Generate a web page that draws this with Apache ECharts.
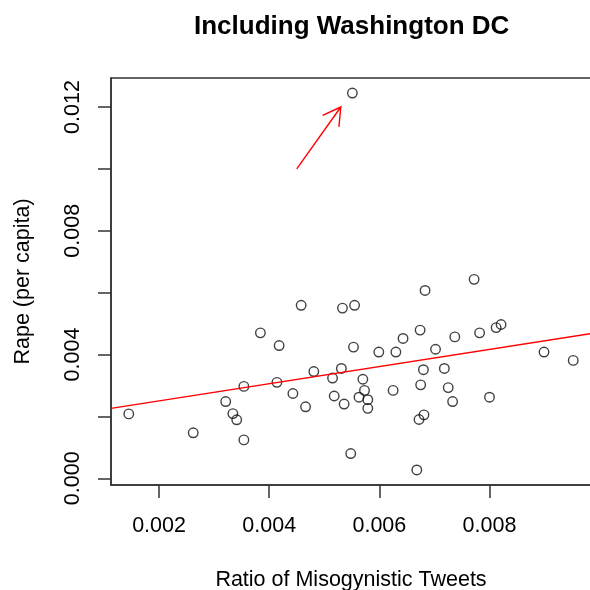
<!DOCTYPE html>
<html>
<head>
<meta charset="utf-8">
<script src="https://cdn.jsdelivr.net/npm/echarts@6/dist/echarts.min.js"></script>
<style>html,body{margin:0;padding:0;background:#fff;}#c{width:590px;height:590px;}</style>
</head>
<body>
<div id="c"></div>
<script>
// Ratio of misogynistic tweets (x) per state (incl. Washington DC)
const tweetRatio = [0.00145,0.00262,0.00321,0.00334,0.00341,0.00354,0.00354,0.00384,0.00418,0.00458,
  0.00414,0.00443,0.00466,0.00481,0.00515,0.00518,0.00533,0.00531,0.00536,0.00555,
  0.00553,0.00548,0.00570,0.00573,0.00563,0.00579,0.00579,0.00599,0.00625,0.00630,
  0.00643,0.00674,0.00683,0.00680,0.00675,0.00681,0.00672,0.00668,0.00702,0.00718,
  0.00725,0.00733,0.00737,0.00772,0.00782,0.00800,0.00812,0.00821,0.00899,0.00952,
  0.00551];
// Rape per capita (y)
const rapePerCapita = [0.00208,0.00147,0.00248,0.00209,0.00189,0.00124,0.00297,0.00470,0.00429,0.00559,
  0.00310,0.00274,0.00231,0.00345,0.00324,0.00266,0.00550,0.00355,0.00240,0.00559,
  0.00424,0.00080,0.00320,0.00284,0.00262,0.00254,0.00226,0.00408,0.00284,0.00408,
  0.00452,0.00479,0.00607,0.00351,0.00302,0.00205,0.00190,0.00027,0.00417,0.00355,
  0.00293,0.00248,0.00457,0.00643,0.00470,0.00262,0.00487,0.00497,0.00408,0.00381,
  0.01245];
// fitted regression line (abline)
const fitIntercept = 0.001947;
const fitSlope = 0.2775;
// annotation arrow: [x0, y0, x1, y1]
const arrowSpec = [0.0045, 0.0100, 0.0053, 0.0120];
// tick positions
const xTicks = [0.002, 0.004, 0.006, 0.008];
const yTicks = [0.000, 0.002, 0.004, 0.006, 0.008, 0.010, 0.012];
const yTickLabels = [0.000, 0.004, 0.008, 0.012];

function ext(arr){
  const mn = Math.min.apply(null, arr), mx = Math.max.apply(null, arr);
  const r = mx - mn;
  return [mn - 0.04 * r, mx + 0.04 * r];
}
const xr = ext(tweetRatio), yr = ext(rapePerCapita);
const points = tweetRatio.map((v, i) => [v, rapePerCapita[i]]);
const fitLine = [[xr[0], fitIntercept + fitSlope * xr[0]], [xr[1], fitIntercept + fitSlope * xr[1]]];

const FONT = 'Liberation Sans, Arial, sans-serif';
const chart = echarts.init(document.getElementById('c'), null, {renderer: 'canvas'});
chart.setOption({
  animation: false,
  backgroundColor: '#ffffff',
  title: {
    text: 'Including Washington DC',
    left: 189, top: 9,
    textStyle: {fontFamily: FONT, fontSize: 26, fontWeight: 'bold', color: '#000'}
  },
  grid: {left: 111, top: 78, width: 480, height: 407, containLabel: false, outerBoundsMode: 'none',
    show: true, borderColor: '#333', borderWidth: 1.5, backgroundColor: 'transparent'},
  xAxis: {
    type: 'value', min: xr[0], max: xr[1],
    name: 'Ratio of Misogynistic Tweets', nameLocation: 'middle', nameGap: 84,
    nameTextStyle: {fontFamily: FONT, fontSize: 21.5, color: '#000'},
    axisLine: {show: true, onZero: false, lineStyle: {color: '#333', width: 1.5}},
    axisTick: {show: true, length: 13, inside: false, customValues: xTicks, lineStyle: {color: '#333', width: 1.5}},
    axisLabel: {show: true, customValues: xTicks, margin: 30, fontFamily: FONT, fontSize: 21.5, color: '#000',
      formatter: v => v.toFixed(3)},
    splitLine: {show: false}
  },
  yAxis: {
    type: 'value', min: yr[0], max: yr[1],
    name: 'Rape (per capita)', nameLocation: 'middle', nameGap: 77, nameRotate: 90,
    nameTextStyle: {fontFamily: FONT, fontSize: 21.5, color: '#000'},
    axisLine: {show: true, onZero: false, lineStyle: {color: '#333', width: 1.5}},
    axisTick: {show: true, length: 13, inside: false, customValues: yTicks, lineStyle: {color: '#333', width: 1.5}},
    axisLabel: {show: true, customValues: yTickLabels, rotate: 90, margin: 27, fontFamily: FONT, fontSize: 21.5, color: '#000',
      formatter: v => v.toFixed(3)},
    splitLine: {show: false}
  },
  series: [
    {
      type: 'scatter', data: points, symbol: 'circle', symbolSize: 9.5,
      itemStyle: {color: 'rgba(0,0,0,0)', borderColor: '#111', borderWidth: 1.4},
      z: 2
    },
    {
      type: 'line', data: fitLine, symbol: 'none',
      lineStyle: {color: '#ff0000', width: 1.4}, z: 3
    },
    {
      type: 'custom', data: [arrowSpec], encode: {x: [0, 2], y: [1, 3]}, z: 4,
      renderItem: function (params, api) {
        const p0 = api.coord([api.value(0), api.value(1)]);
        const p1 = api.coord([api.value(2), api.value(3)]);
        const ang = Math.atan2(p0[1] - p1[1], p0[0] - p1[0]);
        const L = 20, a = Math.PI / 6;
        const h1 = [p1[0] + L * Math.cos(ang + a), p1[1] + L * Math.sin(ang + a)];
        const h2 = [p1[0] + L * Math.cos(ang - a), p1[1] + L * Math.sin(ang - a)];
        const st = {stroke: '#ff0000', lineWidth: 1.4, fill: null};
        return {type: 'group', children: [
          {type: 'polyline', shape: {points: [p0, p1]}, style: st},
          {type: 'polyline', shape: {points: [h1, p1, h2]}, style: st}
        ]};
      }
    }
  ]
});
</script>
</body>
</html>
